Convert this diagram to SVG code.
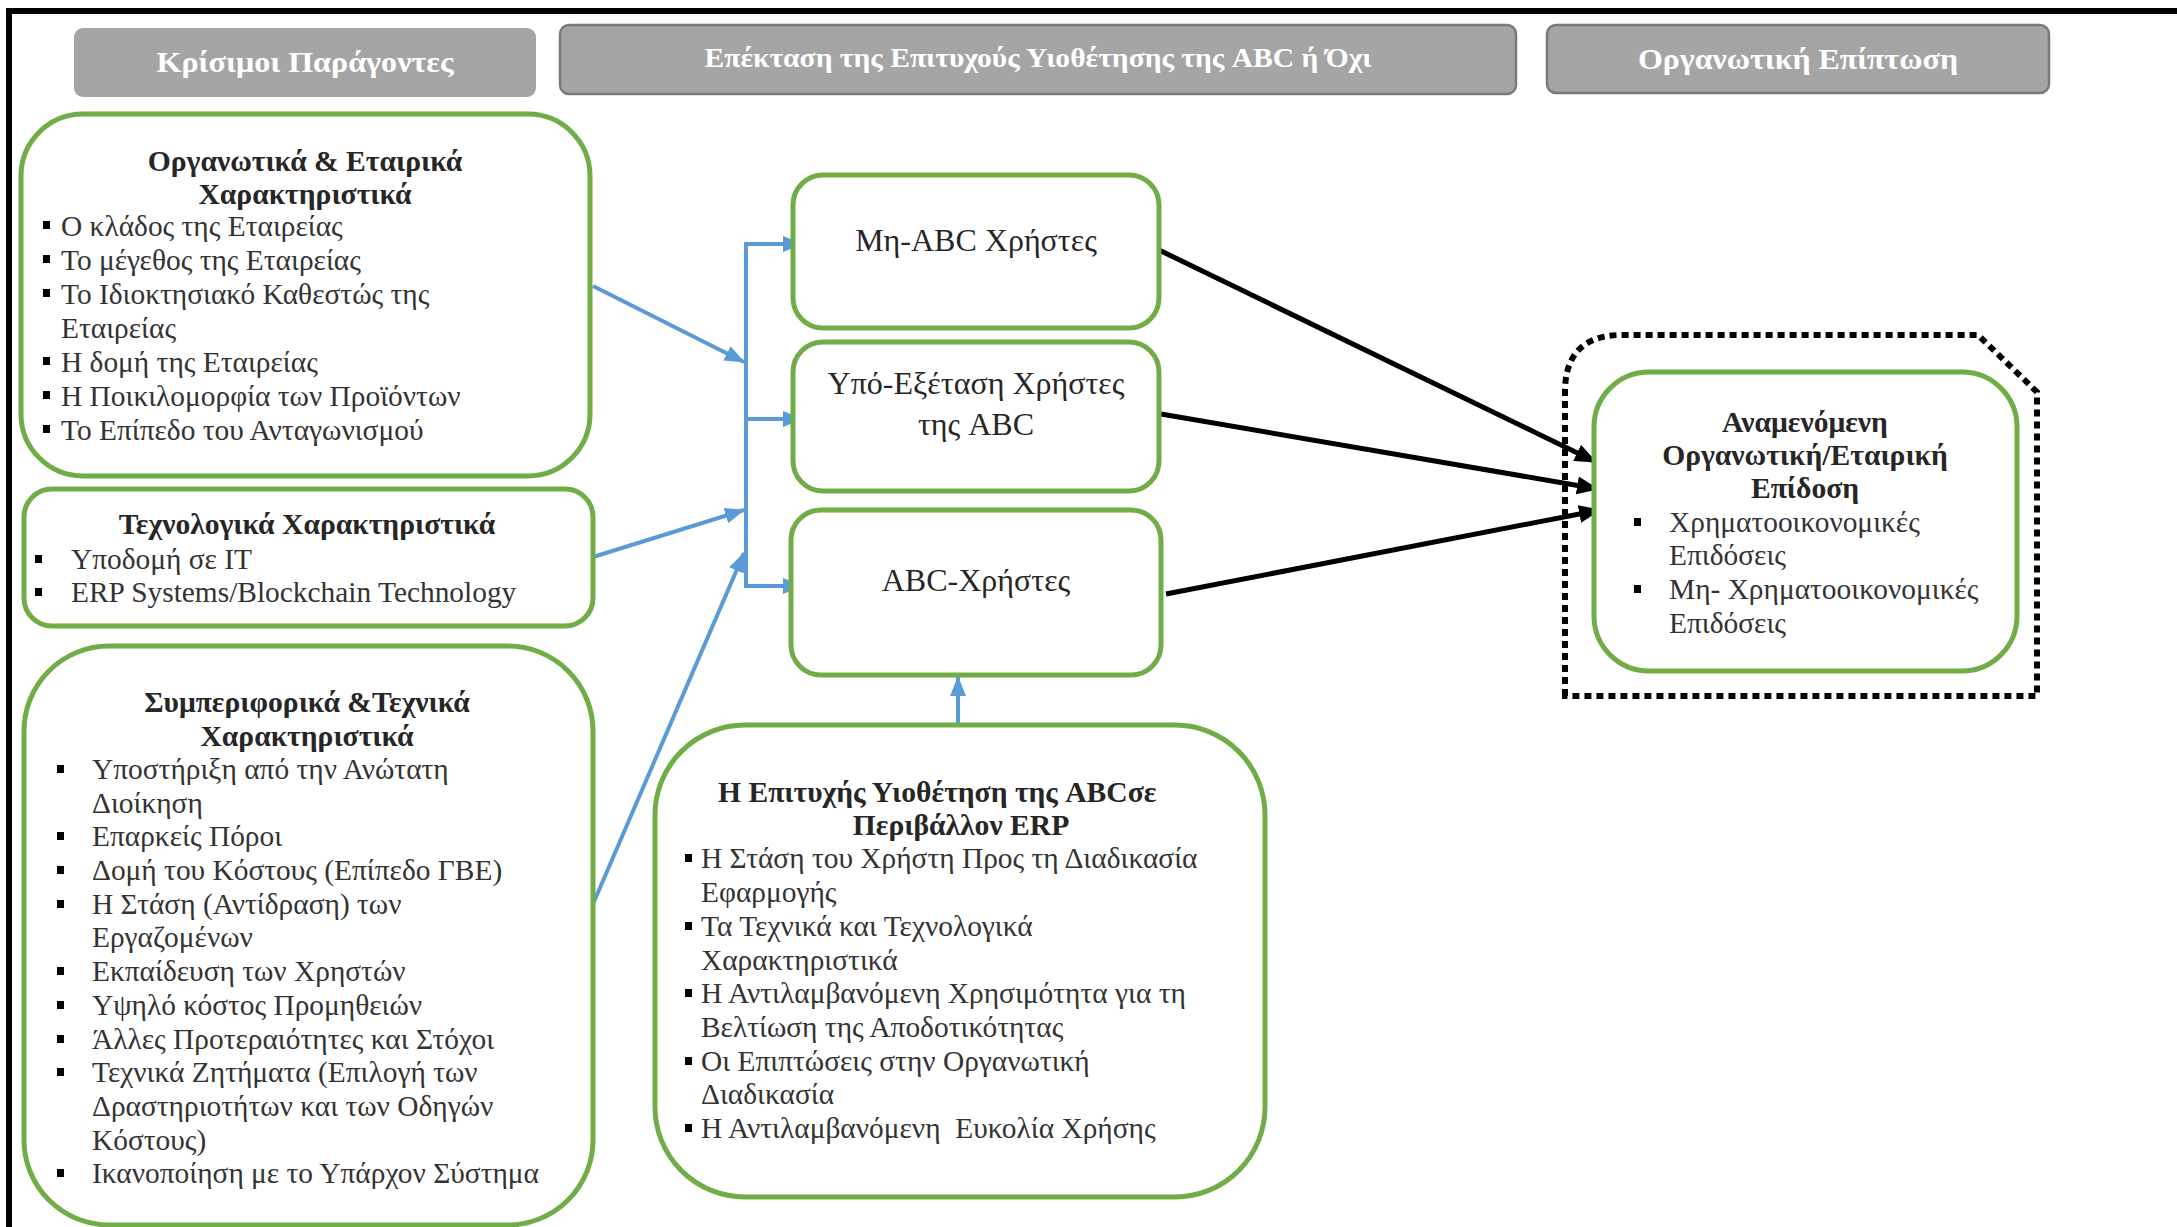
<svg xmlns="http://www.w3.org/2000/svg" width="2177" height="1227" viewBox="0 0 2177 1227">
  <style>
    .hdr { fill: #a5a5a5; }
    .hdr-s { stroke: #7a7a7a; stroke-width: 2.5; }
    .hdr-t { font-family: "Liberation Serif", "Times New Roman", serif; font-weight: bold; fill: #ffffff; text-anchor: middle; }
    .box { fill: #ffffff; stroke: #70ad47; stroke-width: 5; }
    .ttl { font-family: "Liberation Serif", "Times New Roman", serif; font-weight: bold; font-size: 29.6px; fill: #262626; }
    .itm { font-family: "Liberation Serif", "Times New Roman", serif; font-size: 29.4px; fill: #333333; }
    .lbl { font-family: "Liberation Serif", "Times New Roman", serif; font-size: 32px; fill: #262626; text-anchor: middle; }
    .mid { text-anchor: middle; }
    .blt { fill: #000000; }
    .blue { fill: none; stroke: #5b9bd5; stroke-width: 4; }
    .black { fill: none; stroke: #000000; stroke-width: 5; }
  </style>
  <defs>
    <marker id="arrBlue" markerUnits="userSpaceOnUse" markerWidth="20" markerHeight="18" viewBox="0 0 20 18" refX="19" refY="9" orient="auto">
      <path d="M0,1 L20,9 L0,17 Z" fill="#5b9bd5"/>
    </marker>
    <marker id="arrBlack" markerUnits="userSpaceOnUse" markerWidth="22" markerHeight="20" viewBox="0 0 22 20" refX="21" refY="10" orient="auto">
      <path d="M0,1 L22,10 L0,19 Z" fill="#000000"/>
    </marker>
  </defs>

  <rect width="2177" height="1227" fill="#ffffff"/>

  <!-- outer frame: only top and left edges are visible -->
  <path d="M9,1227 L9,11 L2177,11" fill="none" stroke="#000000" stroke-width="6"/>

  <!-- column headers -->
  <g id="hdr-critical">
    <rect class="hdr" x="74" y="28" width="462" height="69" rx="9"/>
    <text class="hdr-t" x="305" y="72" font-size="30" textLength="297" lengthAdjust="spacingAndGlyphs">Κρίσιμοι Παράγοντες</text>
  </g>
  <g id="hdr-extension">
    <rect class="hdr hdr-s" x="560" y="25" width="956" height="69" rx="9"/>
    <text class="hdr-t" x="1038" y="67" font-size="27" textLength="667" lengthAdjust="spacingAndGlyphs">Επέκταση της Επιτυχούς Υιοθέτησης της ABC ή Όχι</text>
  </g>
  <g id="hdr-impact">
    <rect class="hdr hdr-s" x="1547" y="25" width="502" height="68" rx="9"/>
    <text class="hdr-t" x="1798" y="69" font-size="30" textLength="320" lengthAdjust="spacingAndGlyphs">Οργανωτική Επίπτωση</text>
  </g>

  <!-- connectors -->
  <g id="connectors">
    <!-- blue trunk and branches -->
    <path class="blue" d="M746,244 L746,586" stroke-width="4.5"/>
    <path class="blue" d="M744,244 L802,244" stroke-width="5" marker-end="url(#arrBlue)"/>
    <path class="blue" d="M744,419 L802,419" stroke-width="5" marker-end="url(#arrBlue)"/>
    <path class="blue" d="M744,586 L802,586" stroke-width="5" marker-end="url(#arrBlue)"/>
    <!-- factor boxes into the trunk -->
    <path class="blue" d="M593,286 L744,362" stroke-width="3.5" marker-end="url(#arrBlue)"/>
    <path class="blue" d="M593,557 L744,510" stroke-width="6" marker-end="url(#arrBlue)"/>
    <path class="blue" d="M593,904 L744,553" stroke-width="3.5" marker-end="url(#arrBlue)"/>
    <!-- ERP adoption box up to ABC users -->
    <path class="blue" d="M958,725 L958,677" stroke-width="5" marker-end="url(#arrBlue)"/>
    <!-- user groups into performance -->
    <path class="black" d="M1159,250 L1596,462" marker-end="url(#arrBlack)"/>
    <path class="black" d="M1161,414 L1598,489" marker-end="url(#arrBlack)"/>
    <path class="black" d="M1166,594 L1600,510" marker-end="url(#arrBlack)"/>
  </g>

  <!-- factor: organisational & corporate -->
  <g id="org-chars">
    <rect class="box" x="21" y="114" width="569" height="362" rx="62"/>
    <text class="ttl mid" x="305" y="171">Οργανωτικά &amp; Εταιρικά</text>
    <text class="ttl mid" x="305" y="204">Χαρακτηριστικά</text>
    <rect class="blt" x="43" y="221" width="7" height="8"/>
    <text class="itm" x="61" y="236">Ο κλάδος της Εταιρείας</text>
    <rect class="blt" x="43" y="255" width="7" height="8"/>
    <text class="itm" x="61" y="270">Το μέγεθος της Εταιρείας</text>
    <rect class="blt" x="43" y="289" width="7" height="8"/>
    <text class="itm" x="61" y="304" fill="#000000">Το Ιδιοκτησιακό Καθεστώς της</text>
    <text class="itm" x="61" y="338">Εταιρείας</text>
    <rect class="blt" x="43" y="357" width="7" height="8"/>
    <text class="itm" x="61" y="372">Η δομή της Εταιρείας</text>
    <rect class="blt" x="43" y="391" width="7" height="8"/>
    <text class="itm" x="61" y="406">Η Ποικιλομορφία των Προϊόντων</text>
    <rect class="blt" x="43" y="425" width="7" height="8"/>
    <text class="itm" x="61" y="440">Το Επίπεδο του Ανταγωνισμού</text>
  </g>

  <!-- factor: technological -->
  <g id="tech-chars">
    <rect class="box" x="24" y="489" width="569" height="137" rx="28"/>
    <text class="ttl mid" x="307" y="534">Τεχνολογικά Χαρακτηριστικά</text>
    <rect class="blt" x="35" y="555" width="7" height="8"/>
    <text class="itm" x="71" y="569">Υποδομή σε IT</text>
    <rect class="blt" x="35" y="588" width="7" height="8"/>
    <text class="itm" x="71" y="602" fill="#000000">ERP Systems/Blockchain Technology</text>
  </g>

  <!-- factor: behavioural & technical -->
  <g id="behav-chars">
    <rect class="box" x="24" y="646" width="569" height="579" rx="85"/>
    <text class="ttl mid" x="307" y="712">Συμπεριφορικά &amp;Τεχνικά</text>
    <text class="ttl mid" x="307" y="746">Χαρακτηριστικά</text>
    <rect class="blt" x="57" y="765" width="7" height="8"/>
    <text class="itm" x="92" y="779">Υποστήριξη από την Ανώτατη</text>
    <text class="itm" x="92" y="813">Διοίκηση</text>
    <rect class="blt" x="57" y="832" width="7" height="8"/>
    <text class="itm" x="92" y="846">Επαρκείς Πόροι</text>
    <rect class="blt" x="57" y="866" width="7" height="8"/>
    <text class="itm" x="92" y="880">Δομή του Κόστους (Επίπεδο ΓΒΕ)</text>
    <rect class="blt" x="57" y="900" width="7" height="8"/>
    <text class="itm" x="92" y="914">Η Στάση (Αντίδραση) των</text>
    <text class="itm" x="92" y="947">Εργαζομένων</text>
    <rect class="blt" x="57" y="967" width="7" height="8"/>
    <text class="itm" x="92" y="981">Εκπαίδευση των Χρηστών</text>
    <rect class="blt" x="57" y="1001" width="7" height="8"/>
    <text class="itm" x="92" y="1015">Υψηλό κόστος Προμηθειών</text>
    <rect class="blt" x="57" y="1035" width="7" height="8"/>
    <text class="itm" x="92" y="1049">Άλλες Προτεραιότητες και Στόχοι</text>
    <rect class="blt" x="57" y="1068" width="7" height="8"/>
    <text class="itm" x="92" y="1082">Τεχνικά Ζητήματα (Επιλογή των</text>
    <text class="itm" x="92" y="1116">Δραστηριοτήτων και των Οδηγών</text>
    <text class="itm" x="92" y="1150">Κόστους)</text>
    <rect class="blt" x="57" y="1169" width="7" height="8"/>
    <text class="itm" x="92" y="1183" fill="#000000">Ικανοποίηση με το Υπάρχον Σύστημα</text>
  </g>

  <!-- user groups -->
  <g id="non-abc-users">
    <rect class="box" x="793" y="175" width="366" height="153" rx="30"/>
    <text class="lbl" x="976" y="251">Μη-ABC Χρήστες</text>
  </g>
  <g id="considering-users">
    <rect class="box" x="793" y="342" width="366" height="149" rx="30"/>
    <text class="lbl" x="976" y="394">Υπό-Εξέταση Χρήστες</text>
    <text class="lbl" x="976" y="435">της ABC</text>
  </g>
  <g id="abc-users">
    <rect class="box" x="791" y="510" width="370" height="165" rx="30"/>
    <text class="lbl" x="976" y="591">ABC-Χρήστες</text>
  </g>

  <!-- successful ABC adoption in ERP environment -->
  <g id="erp-adoption">
    <rect class="box" x="655" y="725" width="610" height="472" rx="90"/>
    <text class="ttl" x="718" y="802" fill="#000000">Η Επιτυχής Υιοθέτηση της ABCσε</text>
    <text class="ttl mid" x="961" y="835" fill="#000000">Περιβάλλον ERP</text>
    <rect class="blt" x="685" y="854" width="7" height="8"/>
    <text class="itm" x="701" y="868">Η Στάση του Χρήστη Προς τη Διαδικασία</text>
    <text class="itm" x="701" y="902">Εφαρμογής</text>
    <rect class="blt" x="685" y="922" width="7" height="8"/>
    <text class="itm" x="701" y="936">Τα Τεχνικά και Τεχνολογικά</text>
    <text class="itm" x="701" y="970">Χαρακτηριστικά</text>
    <rect class="blt" x="685" y="989" width="7" height="8"/>
    <text class="itm" x="701" y="1003" fill="#000000">Η Αντιλαμβανόμενη Χρησιμότητα για τη</text>
    <text class="itm" x="701" y="1037" fill="#000000">Βελτίωση της Αποδοτικότητας</text>
    <rect class="blt" x="685" y="1057" width="7" height="8"/>
    <text class="itm" x="701" y="1071">Οι Επιπτώσεις στην Οργανωτική</text>
    <text class="itm" x="701" y="1104">Διαδικασία</text>
    <rect class="blt" x="685" y="1124" width="7" height="8"/>
    <text class="itm" x="701" y="1138" xml:space="preserve" style="white-space: pre">Η Αντιλαμβανόμενη  Ευκολία Χρήσης</text>
  </g>

  <!-- expected performance with dotted surround -->
  <g id="performance">
    <path d="M1565,696 L1565,392 Q1565,336 1620,335 L1978,335 L2037,392 L2037,696 Z" fill="none" stroke="#000000" stroke-width="6" stroke-dasharray="7 5"/>
    <rect class="box" x="1594" y="372" width="423" height="299" rx="55"/>
    <text class="ttl mid" x="1805" y="432">Αναμενόμενη</text>
    <text class="ttl mid" x="1805" y="465">Οργανωτική/Εταιρική</text>
    <text class="ttl mid" x="1805" y="498">Επίδοση</text>
    <rect class="blt" x="1634" y="518" width="7" height="8"/>
    <text class="itm" x="1669" y="532">Χρηματοοικονομικές</text>
    <text class="itm" x="1669" y="565">Επιδόσεις</text>
    <rect class="blt" x="1634" y="585" width="7" height="8"/>
    <text class="itm" x="1669" y="599">Μη- Χρηματοοικονομικές</text>
    <text class="itm" x="1669" y="633">Επιδόσεις</text>
  </g>
</svg>
